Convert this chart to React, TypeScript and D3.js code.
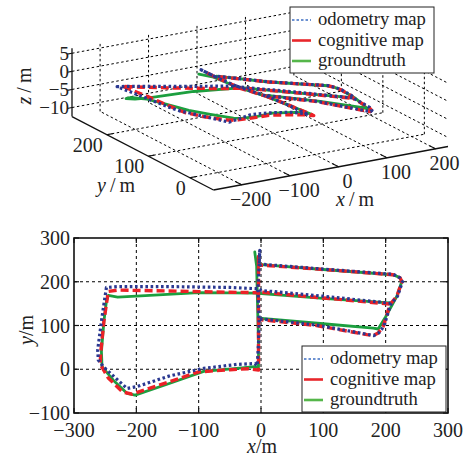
import React, { useEffect, useRef } from 'react';
import * as d3 from 'd3';

const W = 469;
const H = 457;
const FONT = '"Liberation Serif", "Times New Roman", serif';

// trajectories: [x, y, z] in metres
const groundtruth = [
  [-5, 115, -3.0], [-4, 60, -2.2], [-4, 5, -1.5], [-10, 6, -1.2], [-39, 2, 0],
  [-92, -5, 1.5], [-146, -32, 3.6], [-202, -59, 6.0], [-215, -55, 6.2], [-237, -25, 6.0],
  [-255, 6, 5.7], [-256, 40, 4.8], [-252, 110, 2.5], [-248, 155, 0.2], [-245, 169, -1.0],
  [-230, 165, -1.3], [-200, 167, -1.8], [-100, 175, -3.0], [-6, 174, -4.3], [-7, 236, -5.0],
  [-10, 268, -6.0], [-7, 236, -5.0], [1, 239, -5.1], [100, 228, -8.5], [212, 216, -11.6],
  [222, 210, -12.0], [226, 201, -12.2], [218, 167, -11.6], [212, 151, -11.1], [200, 120, -10.6],
  [188, 92, -10.0], [180, 94, -9.6], [100, 104, -6.5], [1, 116, -3.1], [-5, 115, -3.0],
  [-6, 174, -4.3], [1, 173, -4.4], [100, 162, -7.6], [212, 151, -11.1],
];

const cognitive = [
  [-4, 113, -3.0], [-4, 60, -2.2], [-4, -2, -1.5], [-20, 1, -1.1], [-50, -1, -0.2],
  [-100, -6, 1.2], [-150, -30, 3.2], [-207, -57, 5.6], [-222, -52, 5.6], [-245, -20, 5.2],
  [-258, 12, 4.8], [-257, 40, 4.4], [-252, 110, 3.3], [-245, 178, 1.9], [-230, 181, 1.2],
  [-150, 179, -1.0], [-50, 176, -3.5], [-4, 175, -4.5], [-4, 237, -5.0], [-4, 258, -5.0],
  [-4, 237, -5.0], [1, 238, -5.1], [100, 228, -8.5], [212, 216, -11.6], [223, 209, -12.0],
  [226, 200, -12.2], [218, 167, -11.6], [207, 148, -11.0], [196, 98, -10.2], [188, 83, -9.9],
  [180, 77, -9.7], [170, 79, -9.3], [89, 100, -6.0], [1, 113, -3.1], [-4, 113, -3.0],
  [-4, 175, -4.5], [1, 176, -4.6], [100, 163, -7.6], [207, 149, -11.0],
];

const odometry = [
  [-3, 113, -3.0], [-4, 60, -2.3], [-6, 8, -1.8], [-10, 13, -1.7], [-39, 11, -0.5],
  [-92, 2, 1.2], [-146, -15, 3.0], [-200, -40, 4.3], [-215, -44, 4.4], [-247, -2, 4.8],
  [-253, 6, 4.9], [-261, 21, 4.8], [-262, 44, 4.4], [-255, 120, 2.8], [-248, 187, 1.3],
  [-230, 189, 0.8], [-150, 189, -1.2], [-50, 187, -3.5], [-5, 184, -4.4], [-3, 237, -5.0],
  [-2, 272, -5.2], [-3, 237, -5.0], [1, 240, -5.1], [100, 229, -8.5], [212, 217, -11.6],
  [223, 209, -12.0], [227, 200, -12.2], [219, 167, -11.6], [208, 148, -11.0], [197, 98, -10.2],
  [189, 83, -9.9], [181, 77, -9.7], [170, 80, -9.3], [89, 101, -6.0], [1, 115, -3.1],
  [-3, 113, -3.0], [-5, 184, -4.4], [1, 180, -4.6], [100, 167, -7.6], [207, 151, -11.0],
];

const seriesNames = ['odometry map', 'cognitive map', 'groundtruth'];

// 3D axes
const x3Lim = [-258, 226];
const y3Lim = [-57, 284];
const z3Lim = [-12.5, 6.4];
const x3Ticks = [-200, -100, 0, 100, 200];
const y3Ticks = [0, 100, 200];
const z3Ticks = [-10, -5, 0, 5];

// 2D axes
const x2Ticks = [-300, -200, -100, 0, 100, 200, 300];
const y2Ticks = [-100, 0, 100, 200, 300];
const x2Grid = [-200, -100, 0, 100, 200];
const y2Grid = [0, 100, 200];

const styles = [
  { data: odometry, color: '#2a3891', legend: '#3d6dc2', width: 3.2, dash: '2.6,2.6', lw: 1.6, ldash: '2.5,2' },
  { data: cognitive, color: '#ec2127', legend: '#e8262b', width: 3.4, dash: '8,4', lw: 2.6, ldash: null },
  { data: groundtruth, color: '#1c9f3f', legend: '#55b64a', width: 2.8, dash: null, lw: 2.6, ldash: null },
];

const fmt = (v: number) => (v < 0 ? '\u2212' + Math.abs(v) : String(v));

function legend(g: any, x: number, y: number) {
  const lg = g.append('g').attr('transform', `translate(${x},${y})`);
  lg.append('rect').attr('width', 144).attr('height', 66)
    .attr('fill', '#fff').attr('stroke', '#222').attr('stroke-width', 1);
  seriesNames.forEach((n, i) => {
    const s = styles[i];
    const yy = 13 + i * 20.5;
    lg.append('line').attr('x1', 2).attr('x2', 21).attr('y1', yy).attr('y2', yy)
      .attr('stroke', s.legend).attr('stroke-width', s.lw)
      .attr('stroke-dasharray', s.ldash);
    lg.append('text').attr('x', 28).attr('y', yy + 5)
      .attr('font-family', FONT).attr('font-size', 18.6).attr('fill', '#222').text(n);
  });
}

function draw3d(g: any) {
  const tx = d3.scaleLinear().domain(x3Lim).range([0, 1]);
  const ty = d3.scaleLinear().domain(y3Lim).range([0, 1]);
  const tz = d3.scaleLinear().domain(z3Lim).range([0, 68.4]);
  const O = [213.5, 190];
  const EX = [234.5, -43.5];
  const EY = [-141.5, -73.4];
  const P = (x: number, y: number, z: number): [number, number] => [
    O[0] + tx(x) * EX[0] + ty(y) * EY[0],
    O[1] + tx(x) * EX[1] + ty(y) * EY[1] - tz(z),
  ];
  const [x0, x1] = x3Lim, [y0, y1] = y3Lim, [z0, z1] = z3Lim;

  const segs: [number, number, number][][] = [];
  x3Ticks.forEach((x) => {
    segs.push([[x, y0, z0], [x, y1, z0]]);
    segs.push([[x, y1, z0], [x, y1, z1]]);
  });
  y3Ticks.forEach((y) => {
    segs.push([[x0, y, z0], [x1, y, z0]]);
    segs.push([[x1, y, z0], [x1, y, z1]]);
  });
  z3Ticks.forEach((z) => {
    segs.push([[x0, y1, z], [x1, y1, z]]);
    segs.push([[x1, y1, z], [x1, y0, z]]);
  });
  const line = d3.line();
  g.append('g').selectAll('path').data(segs).enter().append('path')
    .attr('d', (s: any) => line(s.map((p: any) => P(p[0], p[1], p[2]))))
    .attr('stroke', '#000').attr('stroke-width', 1)
    .attr('stroke-dasharray', '2.5,2.5').attr('fill', 'none');

  // axis lines
  const axes = [
    [[x0, y0, z0], [x1, y0, z0]],
    [[x0, y0, z0], [x0, y1, z0]],
    [[x0, y1, z0], [x0, y1, z1]],
  ];
  g.append('g').selectAll('path').data(axes).enter().append('path')
    .attr('d', (s: any) => line(s.map((p: any) => P(p[0], p[1], p[2]))))
    .attr('stroke', '#111').attr('stroke-width', 1.3).attr('fill', 'none');

  // tick marks
  const tickSegs: [number, number][][] = [];
  x3Ticks.forEach((x) => tickSegs.push([P(x, y0, z0), P(x, y0 + 14, z0)]));
  y3Ticks.forEach((y) => tickSegs.push([P(x0, y, z0), P(x0 + 12, y, z0)]));
  z3Ticks.forEach((z) => tickSegs.push([P(x0, y1, z), P(x0 - 10, y1, z)]));
  g.append('g').selectAll('path').data(tickSegs).enter().append('path')
    .attr('d', (s: any) => line(s)).attr('stroke', '#111').attr('stroke-width', 1.1);

  const txt = (x: number, y: number, t: string, anchor: string, size = 20) =>
    g.append('text').attr('x', x).attr('y', y).attr('text-anchor', anchor)
      .attr('font-family', FONT).attr('font-size', size).attr('fill', '#222').text(t);

  x3Ticks.forEach((x) => {
    const p = P(x, y0, z0);
    txt(p[0] + 9, p[1] + 21, fmt(x), 'middle');
  });
  y3Ticks.forEach((y) => {
    const p = P(x0, y, z0);
    txt(p[0] - 4, p[1] + 17, fmt(y), 'end');
  });
  z3Ticks.forEach((z) => {
    const p = P(x0, y1, z);
    txt(p[0] - 3, p[1] + 6.5, fmt(z), 'end', 19);
  });

  const lab = (x: number, y: number, v: string, rot: boolean) => {
    const t = g.append('text').attr('text-anchor', 'middle')
      .attr('font-family', FONT).attr('font-size', 20).attr('fill', '#222')
      .attr('transform', rot ? `translate(${x},${y}) rotate(-90)` : `translate(${x},${y})`);
    t.append('tspan').attr('font-style', 'italic').text(v);
    t.append('tspan').text('\u2009/\u2009m');
  };
  lab(355, 206, 'x', false);
  lab(116, 192, 'y', false);
  lab(31, 86, 'z', true);

  // trajectories
  const path3 = d3.line<number[]>()
    .x((d) => P(d[0], d[1], d[2])[0])
    .y((d) => P(d[0], d[1], d[2])[1]);
  styles.slice().reverse().forEach((s) => {
    g.append('path').attr('d', path3(s.data)).attr('fill', 'none')
      .attr('stroke', s.color).attr('stroke-width', s.width)
      .attr('stroke-dasharray', s.dash).attr('stroke-linejoin', 'round');
  });

  legend(g, 290, 7);
}

function draw2d(g: any) {
  const x = d3.scaleLinear().domain([-300, 300]).range([74, 448]);
  const y = d3.scaleLinear().domain([-100, 300]).range([413, 238]);
  const [L, R] = x.range();
  const [B, T] = y.range();

  g.append('g').selectAll('line').data(x2Grid).enter().append('line')
    .attr('x1', (d: number) => x(d)).attr('x2', (d: number) => x(d))
    .attr('y1', T).attr('y2', B)
    .attr('stroke', '#000').attr('stroke-width', 1).attr('stroke-dasharray', '3,3');
  g.append('g').selectAll('line').data(y2Grid).enter().append('line')
    .attr('y1', (d: number) => y(d)).attr('y2', (d: number) => y(d))
    .attr('x1', L).attr('x2', R)
    .attr('stroke', '#000').attr('stroke-width', 1).attr('stroke-dasharray', '3,3');

  const path2 = d3.line<number[]>().x((d) => x(d[0])).y((d) => y(d[1]));
  styles.slice().reverse().forEach((s) => {
    g.append('path').attr('d', path2(s.data)).attr('fill', 'none')
      .attr('stroke', s.color).attr('stroke-width', s.width)
      .attr('stroke-dasharray', s.dash).attr('stroke-linejoin', 'round');
  });

  // ticks
  x2Ticks.forEach((v) => {
    g.append('line').attr('x1', x(v)).attr('x2', x(v)).attr('y1', B).attr('y2', B - 5)
      .attr('stroke', '#111').attr('stroke-width', 1.2);
    g.append('line').attr('x1', x(v)).attr('x2', x(v)).attr('y1', T).attr('y2', T + 5)
      .attr('stroke', '#111').attr('stroke-width', 1.2);
    g.append('text').attr('x', x(v)).attr('y', 437).attr('text-anchor', 'middle')
      .attr('font-family', FONT).attr('font-size', 20).attr('fill', '#222').text(fmt(v));
  });
  y2Ticks.forEach((v) => {
    g.append('line').attr('x1', L).attr('x2', L + 5).attr('y1', y(v)).attr('y2', y(v))
      .attr('stroke', '#111').attr('stroke-width', 1.2);
    g.append('line').attr('x1', R).attr('x2', R - 5).attr('y1', y(v)).attr('y2', y(v))
      .attr('stroke', '#111').attr('stroke-width', 1.2);
    g.append('text').attr('x', 70).attr('y', y(v) + 7).attr('text-anchor', 'end')
      .attr('font-family', FONT).attr('font-size', 20).attr('fill', '#222').text(fmt(v));
  });

  g.append('rect').attr('x', L).attr('y', T).attr('width', R - L).attr('height', B - T)
    .attr('fill', 'none').attr('stroke', '#111').attr('stroke-width', 1.6);

  const xl = g.append('text').attr('x', 262).attr('y', 453).attr('text-anchor', 'middle')
    .attr('font-family', FONT).attr('font-size', 20).attr('fill', '#222');
  xl.append('tspan').attr('font-style', 'italic').text('x');
  xl.append('tspan').text('/m');
  const yl = g.append('text').attr('text-anchor', 'middle')
    .attr('transform', 'translate(33,330) rotate(-90)')
    .attr('font-family', FONT).attr('font-size', 20).attr('fill', '#222');
  yl.append('tspan').attr('font-style', 'italic').text('y');
  yl.append('tspan').text('/m');

  legend(g, 302, 346);
}

export default function App() {
  const ref = useRef<SVGSVGElement>(null);
  useEffect(() => {
    const svg = d3.select(ref.current);
    svg.selectAll('*').remove();
    draw3d(svg.append('g'));
    draw2d(svg.append('g'));
  }, []);
  return (
    <svg ref={ref} width={W} height={H}
      style={{ position: 'absolute', left: 0, top: 0, background: '#fff' }} />
  );
}
